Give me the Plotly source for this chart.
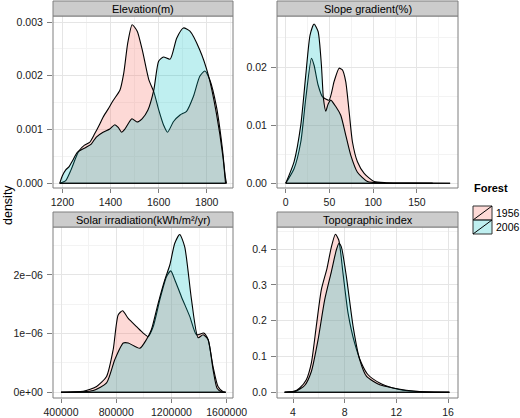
import plotly.graph_objects as go

# ---------------- data ----------------
elev_1956_x = [1189, 1214, 1235, 1256, 1270, 1292, 1313, 1334, 1355, 1369, 1390, 1411, 1439, 1455, 1472, 1490, 1511, 1532, 1559, 1580, 1600, 1620, 1637, 1662, 1689, 1716, 1744, 1771, 1792, 1812, 1840, 1864, 1877, 1882]
elev_1956_y = [0.0, 0.00005, 0.00024, 0.00048, 0.00061, 0.00071, 0.00076, 0.00092, 0.0011, 0.00123, 0.00138, 0.00154, 0.00173, 0.00205, 0.00262, 0.00295, 0.00283, 0.00248, 0.00193, 0.00170, 0.00137, 0.00109, 0.00095, 0.00115, 0.00127, 0.00134, 0.00161, 0.00199, 0.00209, 0.00193, 0.00143, 0.00068, 0.00012, 0.0]
elev_2006_x = [1189, 1200, 1214, 1228, 1242, 1263, 1299, 1320, 1341, 1369, 1397, 1418, 1432, 1446, 1460, 1489, 1510, 1531, 1555, 1580, 1600, 1620, 1648, 1675, 1703, 1730, 1771, 1806, 1840, 1867, 1878]
elev_2006_y = [0.0, 0.00014, 0.00025, 0.00031, 0.00042, 0.00058, 0.00067, 0.00073, 0.00086, 0.00095, 0.00101, 0.00109, 0.00104, 0.00095, 0.00101, 0.0012, 0.00114, 0.0012, 0.00136, 0.00174, 0.00227, 0.00235, 0.00231, 0.0027, 0.00289, 0.00283, 0.00248, 0.00202, 0.0013, 0.0005, 0.0]

slope_1956_x = [0, 9.5, 17.2, 22.9, 29.4, 32.4, 37, 41.9, 49.5, 55.3, 61, 64.8, 68.6, 72.5, 76.3, 82, 89.7, 101.1, 115, 140, 188]
slope_1956_y = [0.0, 0.0025, 0.0071, 0.0146, 0.0215, 0.0203, 0.0169, 0.0149, 0.0143, 0.0175, 0.0198, 0.0195, 0.0175, 0.0123, 0.0071, 0.0037, 0.0017, 0.0003, 0.0001, 0.00003, 0.0]
slope_2006_x = [0, 9.5, 17.2, 22.9, 27.8, 32.4, 37, 40.8, 43.1, 45.8, 48.4, 51.5, 57.2, 62.9, 68.6, 74.4, 82, 93.5, 110, 168]
slope_2006_y = [0.0, 0.0037, 0.010, 0.0186, 0.0255, 0.0274, 0.0261, 0.0203, 0.0146, 0.0124, 0.0136, 0.0143, 0.0132, 0.0117, 0.0083, 0.0048, 0.0019, 0.0003, 0.00005, 0.0]

solar_1956_x = [400000, 561000, 658000, 730000, 778000, 814000, 846000, 887000, 947000, 995000, 1031000, 1068000, 1116000, 1164000, 1195000, 1224000, 1272000, 1333000, 1381000, 1434000, 1465000, 1501000, 1537000, 1574000, 1592000]
solar_1956_y = [0.0, 0.017e-6, 0.1e-6, 0.27e-6, 0.73e-6, 1.32e-6, 1.39e-6, 1.26e-6, 1.12e-6, 1.01e-6, 0.95e-6, 1.12e-6, 1.58e-6, 1.97e-6, 2.07e-6, 1.92e-6, 1.63e-6, 1.29e-6, 0.98e-6, 1.01e-6, 0.9e-6, 0.44e-6, 0.1e-6, 0.01e-6, 0.0]
solar_2006_x = [400000, 634000, 730000, 790000, 851000, 887000, 971000, 1019000, 1055000, 1104000, 1152000, 1188000, 1224000, 1260000, 1296000, 1345000, 1393000, 1429000, 1465000, 1501000, 1530000, 1565000, 1592000]
solar_2006_y = [0.0, 0.03e-6, 0.16e-6, 0.56e-6, 0.84e-6, 0.84e-6, 0.75e-6, 0.9e-6, 1.07e-6, 1.52e-6, 1.92e-6, 2.17e-6, 2.54e-6, 2.69e-6, 2.48e-6, 1.58e-6, 0.93e-6, 0.98e-6, 0.9e-6, 0.39e-6, 0.07e-6, 0.005e-6, 0.0]

topo_1956_x = [3.35, 4.13, 4.52, 5.03, 5.42, 5.8, 6.19, 6.63, 6.97, 7.28, 7.54, 7.87, 8.26, 8.77, 9.29, 9.81, 10.71, 11.74, 12.5, 13.8, 16.1]
topo_1956_y = [0.0, 0.003, 0.012, 0.035, 0.082, 0.184, 0.286, 0.346, 0.406, 0.441, 0.425, 0.332, 0.221, 0.137, 0.082, 0.049, 0.026, 0.012, 0.0056, 0.002, 0.0]
topo_2006_x = [3.35, 4.26, 4.9, 5.42, 5.94, 6.45, 6.97, 7.35, 7.56, 7.74, 8.13, 8.65, 9.16, 9.68, 10.71, 11.74, 12.77, 14.3, 16.1]
topo_2006_y = [0.0, 0.004, 0.019, 0.058, 0.147, 0.258, 0.337, 0.397, 0.416, 0.406, 0.323, 0.184, 0.091, 0.045, 0.021, 0.012, 0.0056, 0.001, 0.0]

series_names = ["1956", "2006"]
legend_title = "Forest"
panel_titles = ["Elevation(m)", "Slope gradient(%)", "Solar irradiation(kWh/m\u00b2/yr)", "Topographic index"]

# ---------------- styling ----------------
W, H = 520, 418
FILLS = {"1956": "rgba(248,118,109,0.28)", "2006": "rgba(0,191,196,0.25)"}
FONT = "Liberation Sans, Arial, sans-serif"
STRIP_H = 15

def px_x(p):
    return p / W

def px_y(p):
    return 1 - p / H

panels = [
    ("x", "y", (53, 233), (16, 188), (elev_1956_x, elev_1956_y, elev_2006_x, elev_2006_y)),
    ("x2", "y2", (277, 458), (16, 188), (slope_1956_x, slope_1956_y, slope_2006_x, slope_2006_y)),
    ("x3", "y3", (53, 233), (227, 398), (solar_1956_x, solar_1956_y, solar_2006_x, solar_2006_y)),
    ("x4", "y4", (277, 458), (227, 398), (topo_1956_x, topo_1956_y, topo_2006_x, topo_2006_y)),
]

fig = go.Figure()
for i, (xa, ya, xr, yr, d) in enumerate(panels):
    for k, name in enumerate(series_names):
        xs, ys = d[2 * k], d[2 * k + 1]
        fig.add_trace(go.Scatter(
            x=xs, y=ys, xaxis=xa, yaxis=ya, mode="lines", name=name,
            line=dict(color="black", width=1.1, shape="spline", smoothing=0.6),
            fill="tozeroy", fillcolor=FILLS[name],
            showlegend=False, hoverinfo="skip"))
        fig.add_trace(go.Scatter(
            x=[xs[0], xs[-1]], y=[0, 0], xaxis=xa, yaxis=ya, mode="lines",
            line=dict(color="black", width=1.1), showlegend=False, hoverinfo="skip"))

axis_common = dict(
    showline=False, zeroline=False, showgrid=True, gridcolor="#E5E5E5", gridwidth=1,
    ticks="outside", tickcolor="#7F7F7F",
    tickfont=dict(family=FONT, size=10.5, color="#1a1a1a"),
)
x_tick = dict(ticklen=4, ticklabelstandoff=0)
y_tick = dict(ticklen=5, ticklabelstandoff=2)
MINOR = "#F3F3F3"
x_specs = [
    dict(range=[1161, 1909], tickvals=[1200, 1400, 1600, 1800], minor=dict(tick0=1300, dtick=200, showgrid=True, gridcolor=MINOR)),
    dict(range=[-10, 197], tickvals=[0, 50, 100, 150], minor=dict(tick0=25, dtick=50, showgrid=True, gridcolor=MINOR)),
    dict(range=[342070, 1645600], tickvals=[400000, 800000, 1200000, 1600000], ticktext=["400000", "800000", "1200000", "1600000"], minor=dict(tick0=600000, dtick=400000, showgrid=True, gridcolor=MINOR)),
    dict(range=[2.76, 16.77], tickvals=[4, 8, 12, 16], minor=dict(tick0=6, dtick=4, showgrid=True, gridcolor=MINOR)),
]
y_specs = [
    dict(range=[-0.0000874, 0.003112], tickvals=[0, 0.001, 0.002, 0.003], ticktext=["0.000", "0.001", "0.002", "0.003"], minor=dict(tick0=0.0005, dtick=0.001, showgrid=True, gridcolor=MINOR)),
    dict(range=[-0.00081, 0.02877], tickvals=[0, 0.01, 0.02], ticktext=["0.00", "0.01", "0.02"], minor=dict(tick0=0.005, dtick=0.01, showgrid=True, gridcolor=MINOR)),
    dict(range=[-0.097e-6, 2.818e-6], tickvals=[0, 1e-6, 2e-6], ticktext=["0e+00", "1e\u221206", "2e\u221206"], minor=dict(tick0=0.5e-6, dtick=1e-6, showgrid=True, gridcolor=MINOR)),
    dict(range=[-0.0159, 0.4614], tickvals=[0, 0.1, 0.2, 0.3, 0.4], ticktext=["0.0", "0.1", "0.2", "0.3", "0.4"], minor=dict(tick0=0.05, dtick=0.1, showgrid=True, gridcolor=MINOR)),
]

layout = dict(
    width=W, height=H, autosize=False,
    margin=dict(l=0, r=0, t=0, b=0, pad=0, autoexpand=False),
    paper_bgcolor="white", plot_bgcolor="white", showlegend=False,
    font=dict(family=FONT, size=11, color="#1a1a1a"),
)
shapes = []
annotations = []
for i, (xa, ya, xr, yr, d) in enumerate(panels):
    xk = "xaxis" + ("" if i == 0 else str(i + 1))
    yk = "yaxis" + ("" if i == 0 else str(i + 1))
    layout[xk] = dict(axis_common, domain=[px_x(xr[0]), px_x(xr[1])], anchor=ya, **x_tick, **x_specs[i])
    layout[yk] = dict(axis_common, domain=[px_y(yr[1]), px_y(yr[0])], anchor=xa, **y_tick, **y_specs[i])
    shapes.append(dict(type="rect", xref="paper", yref="paper",
                       x0=px_x(xr[0]), x1=px_x(xr[1]), y0=px_y(yr[1]), y1=px_y(yr[0]),
                       line=dict(color="#7F7F7F", width=1), fillcolor="rgba(0,0,0,0)", layer="above"))
    shapes.append(dict(type="rect", xref="paper", yref="paper",
                       x0=px_x(xr[0]), x1=px_x(xr[1]), y0=px_y(yr[0]), y1=px_y(yr[0] - STRIP_H),
                       line=dict(color="#7F7F7F", width=1), fillcolor="#CCCCCC", layer="above"))
    annotations.append(dict(text=panel_titles[i], xref="paper", yref="paper",
                            x=px_x((xr[0] + xr[1]) / 2), y=px_y(yr[0] - STRIP_H / 2),
                            xanchor="center", yanchor="middle", showarrow=False,
                            font=dict(family=FONT, size=11, color="black")))

# y-axis title
annotations.append(dict(text="density", xref="paper", yref="paper", x=px_x(8), y=px_y(205),
                        textangle=-90, xanchor="center", yanchor="middle", showarrow=False,
                        font=dict(family=FONT, size=12.5, color="black")))

# legend (ggplot style keys)
annotations.append(dict(text="<b>" + legend_title + "</b>", xref="paper", yref="paper",
                        x=px_x(472), y=px_y(188), xanchor="left", yanchor="middle", showarrow=False,
                        font=dict(family=FONT, size=11, color="black")))
key_x0, key_x1 = 473, 492
for k, name in enumerate(series_names):
    ky0 = 206 + 14 * k
    ky1 = ky0 + 14
    shapes.append(dict(type="rect", xref="paper", yref="paper",
                       x0=px_x(key_x0), x1=px_x(key_x1), y0=px_y(ky1), y1=px_y(ky0),
                       line=dict(color="#333333", width=1), fillcolor=FILLS[name], layer="above"))
    shapes.append(dict(type="line", xref="paper", yref="paper",
                       x0=px_x(key_x0), x1=px_x(key_x1), y0=px_y(ky1), y1=px_y(ky0),
                       line=dict(color="black", width=1), layer="above"))
    annotations.append(dict(text=name, xref="paper", yref="paper",
                            x=px_x(494), y=px_y((ky0 + ky1) / 2), xanchor="left", yanchor="middle",
                            showarrow=False, font=dict(family=FONT, size=10.5, color="black")))

layout["shapes"] = shapes
layout["annotations"] = annotations
fig.update_layout(**layout)

fig.write_html("out.html", config={"responsive": False, "displayModeBar": False},
               post_script="document.body.style.margin='0';document.body.style.padding='0';")
